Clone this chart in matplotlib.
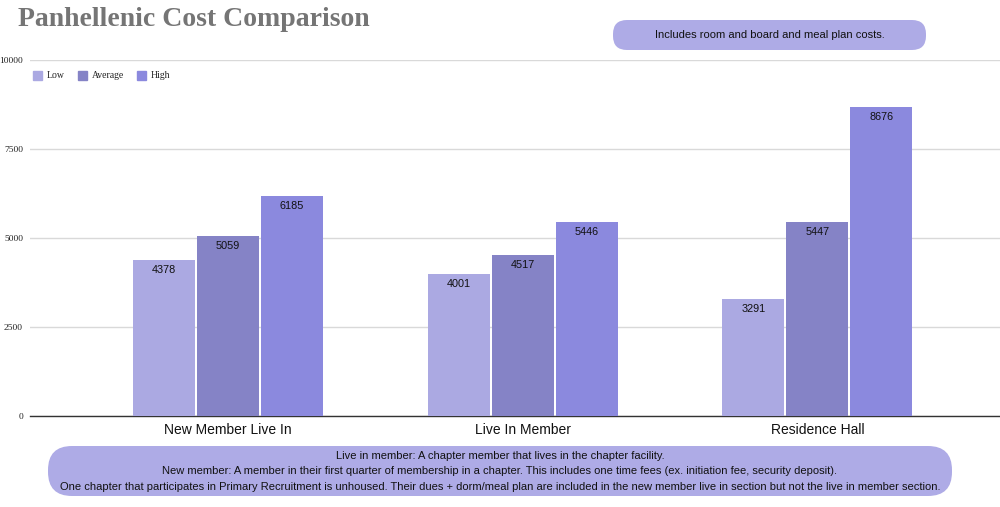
import matplotlib
matplotlib.use("Agg")
import matplotlib.pyplot as plt
from matplotlib.patches import FancyBboxPatch, Rectangle
import numpy as np

categories = ["New Member Live In", "Live In Member", "Residence Hall"]
series_names = ["Low", "Average", "High"]
low = [4378, 4001, 3291]
average = [5059, 4517, 5447]
high = [6185, 5446, 8676]
yticks = [0, 2500, 5000, 7500, 10000]
colors = ["#aba9e2", "#8583c6", "#8b89de"]

fig = plt.figure(figsize=(10, 5.07), dpi=100)
ax = fig.add_axes([0.03, 1 - 416 / 507, 0.97, (416 - 60) / 507])

x = np.arange(len(categories))
w = 0.21
step = 0.217
for i, (vals, c) in enumerate(zip([low, average, high], colors)):
    bars = ax.bar(x + (i - 1) * step, vals, width=w, color=c, zorder=3)
    for b, v in zip(bars, vals):
        ax.text(b.get_x() + b.get_width() / 2, v - 140, str(v), ha="center", va="top",
                fontsize=7.8, family="Liberation Sans", color="#111111", zorder=4)

ax.set_xlim(-0.672, 2.62)
ax.set_ylim(0, 10000)
ax.set_yticks(yticks)
ax.set_yticklabels([str(t) for t in yticks], family="Liberation Serif", fontsize=6.8, color="#222222")
ax.yaxis.grid(True, color="#d9d9d9", linewidth=1, zorder=0)
ax.tick_params(axis="y", length=0, pad=5)
ax.set_xticks(x)
ax.set_xticklabels(categories, family="Liberation Sans", fontsize=10, color="#111111")
ax.tick_params(axis="x", length=0, pad=5)
for s in ["top", "right", "left"]:
    ax.spines[s].set_visible(False)
ax.spines["bottom"].set_color("#333333")
ax.spines["bottom"].set_linewidth(1)

# overlay in pixel coordinates for annotations
ov = fig.add_axes([0, 0, 1, 1], zorder=5)
ov.set_xlim(0, 1000)
ov.set_ylim(507, 0)
ov.axis("off")
ov.patch.set_alpha(0)

# title
ov.text(18, 19, "Panhellenic Cost Comparison", family="Liberation Serif",
        fontweight="bold", fontsize=20, color="#757575", va="center", ha="left")

# legend
legend_x = [33, 78, 137]
for name, c, lx in zip(series_names, colors, legend_x):
    ov.add_patch(Rectangle((lx, 71), 9, 9, color=c))
    ov.text(lx + 14, 75.5, name, family="Liberation Serif", fontsize=7,
            color="#222222", va="center", ha="left")

# top box
box_color = "#aeabe6"
ov.add_patch(FancyBboxPatch((613, 20), 926 - 613, 30,
                            boxstyle="round,pad=0,rounding_size=14",
                            facecolor=box_color, edgecolor="none"))
ov.text(769.5, 35, "Includes room and board and meal plan costs.",
        family="Liberation Sans", fontsize=8, color="#111111", ha="center", va="center")

# bottom box
ov.add_patch(FancyBboxPatch((48, 446), 952 - 48, 50,
                            boxstyle="round,pad=0,rounding_size=24",
                            facecolor=box_color, edgecolor="none"))
lines = [
    "Live in member: A chapter member that lives in the chapter facility.",
    "New member: A member in their first quarter of membership in a chapter. This includes one time fees (ex. initiation fee, security deposit).",
    "One chapter that participates in Primary Recruitment is unhoused. Their dues + dorm/meal plan are included in the new member live in section but not the live in member section.",
]
for i, t in enumerate(lines):
    ov.text(500, 456 + 15.5 * i, t, family=["Liberation Sans Narrow", "Liberation Sans"],
            fontsize=8, color="#111111", ha="center", va="center")

fig.savefig("out.png", dpi=100)
